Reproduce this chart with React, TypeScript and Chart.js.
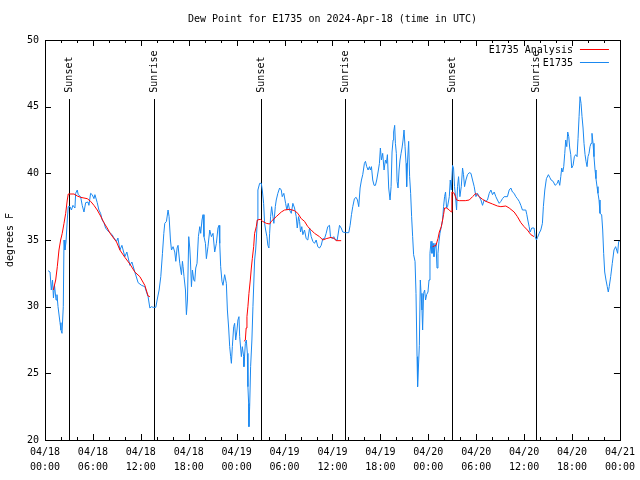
import React, { useEffect, useRef } from "react";
import { Chart, registerables } from "chart.js";

Chart.register(...registerables);

const TITLE = "Dew Point for E1735 on 2024-Apr-18 (time in UTC)";
const Y_LABEL = "degrees F";
const ANALYSIS_LABEL = "E1735 Analysis";
const OBS_LABEL = "E1735";

const xTickDates = ["04/18", "04/18", "04/18", "04/18", "04/19", "04/19", "04/19", "04/19", "04/20", "04/20", "04/20", "04/20", "04/21"];
const xTickTimes = ["00:00", "06:00", "12:00", "18:00", "00:00", "06:00", "12:00", "18:00", "00:00", "06:00", "12:00", "18:00", "00:00"];

// hours since 04/18 00:00 UTC
const sunHours = [3.04, 13.66, 27.0, 37.59, 50.91, 61.54];
const sunLabels = ["Sunset", "Sunrise", "Sunset", "Sunrise", "Sunset", "Sunrise"];
const sunLineTop = 45.6;

const obsHours = [
  0.38, 0.63, 0.79, 0.94, 1.06, 1.19, 1.38, 1.5, 1.63, 1.88,
  2.0, 2.13, 2.29, 2.38, 2.5, 2.63, 2.79, 2.91, 3.13, 3.31,
  3.5, 3.75, 3.84, 4.04, 4.16, 4.46, 4.66, 4.88, 5.09, 5.38,
  5.5, 5.71, 5.91, 6.13, 6.25, 6.54, 6.75, 6.96, 7.16, 7.38,
  7.59, 7.79, 8.0, 8.21, 8.41, 8.63, 8.96, 9.13, 9.38, 9.63,
  10.0, 10.25, 10.63, 10.88, 11.25, 11.66, 12.09, 12.5, 12.71, 12.91,
  13.13, 13.34, 13.54, 13.88, 14.04, 14.29, 14.5, 14.71, 14.88, 15.0,
  15.21, 15.41, 15.54, 15.71, 15.84, 16.04, 16.25, 16.38, 16.54, 16.66,
  16.88, 17.09, 17.21, 17.29, 17.41, 17.59, 17.71, 17.84, 18.0, 18.13,
  18.21, 18.34, 18.46, 18.63, 18.75, 18.88, 19.04, 19.21, 19.38, 19.5,
  19.66, 19.79, 19.91, 20.09, 20.21, 20.41, 20.63, 20.84, 21.04, 21.25,
  21.46, 21.66, 21.79, 21.88, 22.0, 22.16, 22.29, 22.5, 22.71, 22.84,
  23.0, 23.13, 23.25, 23.34, 23.46, 23.63, 23.75, 23.88, 24.04, 24.16,
  24.29, 24.38, 24.59, 24.71, 24.88, 24.91, 25.09, 25.21, 25.34, 25.41,
  25.5, 25.54, 25.63, 25.75, 25.91, 26.04, 26.16, 26.25, 26.38, 26.46,
  26.59, 26.66, 26.88, 27.09, 27.21, 27.38, 27.5, 27.63, 27.79, 27.91,
  28.04, 28.13, 28.25, 28.38, 28.54, 28.66, 28.84, 28.96, 29.16, 29.38,
  29.59, 29.71, 29.91, 30.13, 30.29, 30.46, 30.63, 30.84, 31.04, 31.25,
  31.46, 31.59, 31.75, 31.88, 32.0, 32.16, 32.29, 32.5, 32.71, 32.91,
  33.13, 33.34, 33.54, 33.75, 33.96, 34.16, 34.38, 34.59, 34.79, 35.0,
  35.21, 35.41, 35.63, 35.75, 35.96, 36.16, 36.38, 36.59, 36.79, 36.88,
  37.09, 37.29, 37.63, 38.04, 38.21, 38.38, 38.54, 38.75, 38.96, 39.13,
  39.29, 39.46, 39.63, 39.79, 40.0, 40.13, 40.29, 40.46, 40.63, 40.75,
  40.88, 41.04, 41.21, 41.38, 41.54, 41.71, 41.88, 42.0, 42.13, 42.29,
  42.46, 42.63, 42.75, 42.88, 43.04, 43.21, 43.34, 43.46, 43.59, 43.66,
  43.79, 43.88, 44.0, 44.09, 44.21, 44.34, 44.46, 44.59, 44.71, 44.84,
  44.96, 45.09, 45.21, 45.29, 45.41, 45.54, 45.66, 45.79, 45.91, 46.04,
  46.16, 46.34, 46.46, 46.59, 46.66, 46.75, 46.88, 47.0, 47.09, 47.21,
  47.29, 47.41, 47.54, 47.66, 47.79, 47.96, 48.09, 48.21, 48.34, 48.46,
  48.59, 48.71, 48.84, 48.96, 49.09, 49.21, 49.34, 49.46, 49.63, 49.79,
  49.91, 50.04, 50.16, 50.29, 50.41, 50.63, 50.75, 50.88, 51.04, 51.16,
  51.29, 51.41, 51.54, 51.66, 51.79, 51.96, 52.13, 52.29, 52.41, 52.54,
  52.71, 52.91, 53.13, 53.34, 53.54, 53.75, 53.96, 54.16, 54.38, 54.59,
  54.79, 55.0, 55.21, 55.41, 55.63, 55.84, 56.04, 56.25, 56.46, 56.66,
  56.88, 57.09, 57.29, 57.5, 57.91, 58.13, 58.34, 58.54, 58.75, 58.96,
  59.16, 59.38, 59.59, 59.79, 60.21, 60.34, 60.46, 60.63, 60.75, 60.96,
  61.25, 61.38, 61.54, 61.69, 61.88, 62.09, 62.29, 62.41, 62.59, 62.79,
  63.04, 63.21, 63.38, 63.63, 63.88, 64.16, 64.29, 64.46, 64.59, 64.71,
  64.84, 64.96, 65.09, 65.21, 65.34, 65.46, 65.59, 65.71, 65.84, 65.96,
  66.13, 66.29, 66.46, 66.63, 66.75, 66.88, 67.0, 67.13, 67.25, 67.38,
  67.5, 67.63, 67.75, 67.88, 68.0, 68.13, 68.25, 68.38, 68.5, 68.63,
  68.75, 68.88, 69.0, 69.13, 69.25, 69.38, 69.5, 69.71, 69.84, 69.96,
  70.09, 70.25, 70.41, 70.54, 70.66, 70.84, 71.04, 71.25, 71.46, 71.59,
  71.71, 71.84, 71.96,
];

const obsValues = [
  32.7, 32.6, 31.25, 32.0, 30.65, 31.6, 30.5, 30.9, 30.0, 28.8,
  28.25, 28.0, 30.0, 35.0, 34.25, 34.85, 36.5, 37.5, 37.5, 37.25,
  37.6, 37.4, 38.5, 38.75, 38.4, 38.25, 37.6, 37.1, 37.8, 37.85,
  37.6, 38.5, 38.4, 38.1, 38.4, 37.8, 37.25, 37.0, 36.5, 36.3,
  35.9, 35.75, 35.6, 35.5, 35.4, 35.15, 34.9, 35.15, 34.25, 34.6,
  33.75, 34.1, 33.1, 33.35, 32.6, 31.8, 31.6, 31.5, 31.1, 30.75,
  29.9, 30.0, 29.95, 29.95, 30.5, 31.25, 32.25, 34.0, 35.5, 36.25,
  36.4, 37.25, 36.75, 35.0, 34.25, 34.5, 34.1, 33.4, 34.4, 34.6,
  33.25, 32.4, 33.4, 33.0, 32.25, 31.25, 29.4, 30.5, 35.25, 34.4,
  33.5, 31.5, 32.75, 32.0, 31.9, 32.9, 33.25, 35.25, 36.0, 35.5,
  36.5, 36.9, 35.25, 34.75, 33.6, 34.5, 35.75, 35.25, 35.5, 34.1,
  34.75, 35.9, 36.1, 34.75, 33.0, 31.9, 31.6, 32.4, 31.75, 29.75,
  28.4, 27.0, 26.25, 25.75, 27.0, 28.5, 28.75, 27.5, 28.25, 29.0,
  29.25, 27.75, 26.25, 27.0, 26.25, 25.5, 27.25, 27.5, 26.5, 24.0,
  22.75, 21.0, 22.5, 25.5, 27.5, 30.0, 32.0, 33.5, 34.25, 35.0,
  36.5, 38.75, 39.25, 39.25, 38.75, 37.75, 36.25, 35.75, 35.25, 34.6,
  34.4, 35.5, 36.75, 37.5, 36.75, 36.25, 37.5, 38.0, 38.5, 38.9,
  38.75, 38.25, 38.5, 37.75, 37.25, 37.75, 37.25, 37.0, 37.75, 37.4,
  36.75, 35.9, 36.75, 36.4, 35.6, 36.0, 35.4, 35.75, 35.1, 35.0,
  35.9, 35.25, 34.9, 34.75, 35.0, 34.5, 34.4, 34.6, 35.1, 35.1,
  35.5, 36.0, 36.1, 35.25, 35.1, 35.25, 35.0, 35.0, 35.75, 36.1,
  35.9, 35.6, 35.55, 35.55, 36.1, 36.9, 37.5, 38.1, 38.2, 38.0,
  37.5, 38.9, 39.5, 39.9, 40.75, 40.9, 40.5, 40.25, 40.5, 40.25,
  40.5, 39.5, 39.1, 39.1, 39.5, 40.1, 40.75, 41.9, 41.0, 41.5,
  40.25, 41.0, 40.75, 41.4, 38.9, 38.0, 39.0, 41.6, 42.5, 43.1,
  43.6, 42.25, 41.5, 39.4, 38.9, 40.25, 41.0, 41.5, 41.9, 42.5,
  43.25, 42.0, 40.75, 39.0, 41.0, 42.4, 39.75, 38.5, 36.75, 35.25,
  33.9, 33.4, 31.0, 26.25, 24.0, 25.25, 27.1, 32.0, 31.0, 29.75,
  28.25, 31.0, 31.25, 30.5, 30.9, 31.1, 32.0, 34.0, 34.9, 34.0,
  34.75, 33.75, 34.5, 34.75, 32.9, 34.0, 34.9, 35.5, 36.0, 36.5,
  37.5, 38.25, 38.6, 37.4, 37.5, 38.25, 39.5, 38.75, 40.6, 40.4,
  39.0, 38.25, 37.25, 39.0, 39.75, 38.25, 39.0, 40.4, 39.9, 39.0,
  39.5, 39.9, 40.05, 40.0, 39.5, 39.0, 38.25, 38.5, 38.25, 38.0,
  37.6, 38.0, 37.9, 38.0, 38.5, 38.75, 38.4, 38.6, 38.25, 38.0,
  37.75, 37.9, 38.1, 38.25, 38.25, 38.75, 38.9, 38.6, 38.5, 38.25,
  38.1, 37.9, 37.6, 37.25, 37.25, 36.9, 36.5, 36.0, 35.6, 35.9,
  35.9, 35.25, 35.0, 35.2, 35.5, 35.75, 36.25, 37.5, 38.75, 39.6,
  39.9, 39.7, 39.5, 39.4, 39.1, 39.25, 39.5, 39.1, 39.75, 40.4,
  40.1, 40.5, 41.5, 42.5, 42.0, 43.1, 42.75, 41.9, 41.4, 40.4,
  40.6, 41.25, 41.4, 41.25, 42.6, 44.25, 45.75, 45.25, 44.25, 43.4,
  42.25, 41.4, 40.9, 40.5, 41.25, 41.5, 42.0, 42.25, 43.0, 42.25,
  41.25, 40.25, 39.6, 39.0, 38.5, 38.0, 37.0, 36.9, 35.75, 34.0,
  32.6, 32.0, 31.5, 31.1, 31.5, 32.25, 33.25, 34.25, 34.5, 34.25,
  34.0, 34.9, 34.9,
];

const analysisHours1 = [1.04, 1.34, 1.54, 1.75, 1.96, 2.16, 2.38, 2.59, 2.79, 2.91, 3.25, 3.63, 4.04, 4.46, 4.88, 5.29, 5.71, 6.13, 6.54, 6.96, 7.38, 7.79, 8.21, 8.96, 9.38, 10.0, 10.63, 11.25, 11.88, 12.5, 12.91, 13.13];
const analysisValues1 = [31.25, 32.0, 33.0, 34.25, 35.0, 35.5, 36.25, 37.0, 38.0, 38.45, 38.45, 38.45, 38.3, 38.2, 38.15, 38.1, 37.9, 37.6, 37.25, 36.8, 36.3, 35.9, 35.45, 34.85, 34.25, 33.7, 33.2, 32.6, 32.25, 31.6, 30.8, 30.75];

const analysisHours2 = [24.91, 25.09, 25.19, 25.29, 25.41, 25.54, 25.71, 25.84, 25.96, 26.13, 26.25, 26.46, 26.59, 26.96, 27.25, 27.71, 28.13, 28.34, 28.96, 29.59, 30.0, 30.63, 31.25, 31.66, 32.09, 32.5, 32.91, 33.34, 33.75, 34.38, 34.79, 35.21, 35.84, 36.25, 36.46, 37.09];
const analysisValues2 = [27.4, 27.5, 28.4, 29.25, 30.0, 31.0, 32.0, 32.9, 33.6, 34.5, 35.5, 36.0, 36.5, 36.55, 36.4, 36.25, 36.2, 36.4, 36.75, 37.1, 37.25, 37.3, 37.2, 37.0, 36.6, 36.4, 36.0, 35.75, 35.5, 35.25, 35.0, 35.1, 35.2, 35.1, 34.95, 34.95];

const analysisHours3 = [48.54, 48.96, 49.21, 49.38, 49.63, 49.79, 49.91, 50.04, 50.29, 50.63, 50.88, 50.96, 51.25, 51.54, 51.88, 52.63, 53.13, 53.54, 53.96, 54.38, 54.79, 55.21, 56.04, 56.66, 57.09, 57.71, 58.13, 58.75, 59.16, 59.59, 60.0, 60.41, 60.84, 61.25];
const analysisValues3 = [34.5, 34.6, 35.1, 35.6, 36.0, 36.5, 36.9, 37.4, 37.4, 37.25, 37.1, 38.6, 38.5, 38.0, 37.95, 37.95, 38.0, 38.25, 38.5, 38.25, 38.05, 37.9, 37.7, 37.55, 37.5, 37.55, 37.4, 37.1, 36.75, 36.3, 36.0, 35.75, 35.4, 35.25];

const RED = "#ff0000";
const BLUE = "#1a88f0";
const FONT = "'DejaVu Sans Mono', monospace";
const FONT_SIZE = 10;
const X_MAJOR = 6;
const X_MINOR = 2;
const Y_STEP = 5;

function toPoints(xs: number[], ys: number[]) {
  return xs.map((x, i) => ({ x, y: ys[i] }));
}

const analysisData = [
  ...toPoints(analysisHours1, analysisValues1),
  { x: 13.5, y: null },
  ...toPoints(analysisHours2, analysisValues2),
  { x: 40, y: null },
  ...toPoints(analysisHours3, analysisValues3),
];
const obsData = toPoints(obsHours, obsValues);

const decor = {
  id: "decor",
  beforeDatasetsDraw(chart: any) {
    const { ctx, chartArea, scales } = chart;
    ctx.save();
    ctx.strokeStyle = "#000";
    ctx.lineWidth = 1;
    const top = Math.round(scales.y.getPixelForValue(sunLineTop));
    sunHours.forEach((h) => {
      const x = Math.round(scales.x.getPixelForValue(h)) + 0.5;
      ctx.beginPath();
      ctx.moveTo(x, top);
      ctx.lineTo(x, chartArea.bottom);
      ctx.stroke();
    });
    ctx.restore();
  },
  afterDraw(chart: any) {
    const { ctx, chartArea, scales } = chart;
    const { left, right, top, bottom } = chartArea;
    ctx.save();
    ctx.strokeStyle = "#000";
    ctx.lineWidth = 1;
    // frame
    ctx.strokeRect(Math.round(left) + 0.5, Math.round(top) + 0.5, Math.round(right - left), Math.round(bottom - top));
    // x ticks
    ctx.beginPath();
    for (let h = 0; h <= 72; h += X_MINOR) {
      const x = Math.round(scales.x.getPixelForValue(h)) + 0.5;
      const len = h % X_MAJOR === 0 ? 6 : 3;
      ctx.moveTo(x, bottom);
      ctx.lineTo(x, bottom - len);
      ctx.moveTo(x, top);
      ctx.lineTo(x, top + len);
    }
    // y ticks
    for (let v = 20; v <= 50; v += Y_STEP) {
      const y = Math.round(scales.y.getPixelForValue(v)) + 0.5;
      ctx.moveTo(left, y);
      ctx.lineTo(left + 6, y);
      ctx.moveTo(right, y);
      ctx.lineTo(right - 6, y);
    }
    ctx.stroke();

    ctx.fillStyle = "#000";
    ctx.font = `${FONT_SIZE}px ${FONT}`;
    // title
    ctx.textAlign = "center";
    ctx.textBaseline = "middle";
    ctx.fillText(TITLE, (left + right) / 2, 19);

    // y label
    ctx.save();
    ctx.translate(10, (top + bottom) / 2);
    ctx.rotate(-Math.PI / 2);
    ctx.textAlign = "center";
    ctx.textBaseline = "middle";
    ctx.fillText(Y_LABEL, 0, 0);
    ctx.restore();

    // sun labels
    const labelBottom = scales.y.getPixelForValue(sunLineTop) - 6;
    sunHours.forEach((h, i) => {
      const x = Math.round(scales.x.getPixelForValue(h)) + 0.5;
      ctx.save();
      ctx.translate(x, labelBottom);
      ctx.rotate(-Math.PI / 2);
      ctx.textAlign = "left";
      ctx.textBaseline = "middle";
      ctx.fillText(sunLabels[i], 0, 0);
      ctx.restore();
    });

    // legend
    ctx.textAlign = "right";
    ctx.textBaseline = "middle";
    const textRight = right - 47;
    ctx.fillText(ANALYSIS_LABEL, textRight, 50);
    ctx.fillText(OBS_LABEL, textRight, 63);
    ctx.strokeStyle = RED;
    ctx.beginPath();
    ctx.moveTo(right - 40, 49.5);
    ctx.lineTo(right - 11, 49.5);
    ctx.stroke();
    ctx.strokeStyle = BLUE;
    ctx.beginPath();
    ctx.moveTo(right - 40, 62.5);
    ctx.lineTo(right - 11, 62.5);
    ctx.stroke();
    ctx.restore();
  },
};

export default function App() {
  const canvasRef = useRef<HTMLCanvasElement | null>(null);

  useEffect(() => {
    const canvas = canvasRef.current;
    if (!canvas) return;
    const chart = new Chart(canvas, {
      type: "line",
      data: {
        datasets: [
          {
            label: ANALYSIS_LABEL,
            data: analysisData as any,
            borderColor: RED,
            backgroundColor: RED,
            borderWidth: 1,
            pointRadius: 0,
            spanGaps: false,
            tension: 0,
            order: 0,
          },
          {
            label: OBS_LABEL,
            data: obsData as any,
            borderColor: BLUE,
            backgroundColor: BLUE,
            borderWidth: 1,
            pointRadius: 0,
            tension: 0,
            order: 1,
          },
        ],
      },
      options: {
        animation: false,
        responsive: false,
        maintainAspectRatio: false,
        devicePixelRatio: 1,
        layout: { padding: { left: 0, right: 19, top: 40, bottom: 0 } },
        plugins: {
          legend: { display: false },
          title: { display: false },
          tooltip: { enabled: false },
        },
        scales: {
          x: {
            type: "linear",
            min: 0,
            max: 72,
            grid: { display: false, drawTicks: false },
            border: { display: false },
            ticks: {
              stepSize: X_MAJOR,
              autoSkip: false,
              maxRotation: 0,
              minRotation: 0,
              padding: 5,
              color: "#000",
              font: { family: FONT, size: FONT_SIZE, lineHeight: 1.5 },
              callback: (value: any) => {
                const idx = Math.round(Number(value) / X_MAJOR);
                return [xTickDates[idx], xTickTimes[idx]];
              },
            },
            afterFit: (s: any) => {
              s.height = 40;
            },
          },
          y: {
            type: "linear",
            min: 20,
            max: 50,
            grid: { display: false, drawTicks: false },
            border: { display: false },
            ticks: {
              stepSize: Y_STEP,
              padding: 6,
              color: "#000",
              font: { family: FONT, size: FONT_SIZE },
            },
            afterFit: (s: any) => {
              s.width = 45;
            },
          },
        },
      },
      plugins: [decor],
    });
    return () => chart.destroy();
  }, []);

  return (
    <div style={{ position: "absolute", left: 0, top: 0, width: 640, height: 480, background: "#fff" }}>
      <canvas ref={canvasRef} width={640} height={480} style={{ display: "block", width: 640, height: 480 }} />
    </div>
  );
}
